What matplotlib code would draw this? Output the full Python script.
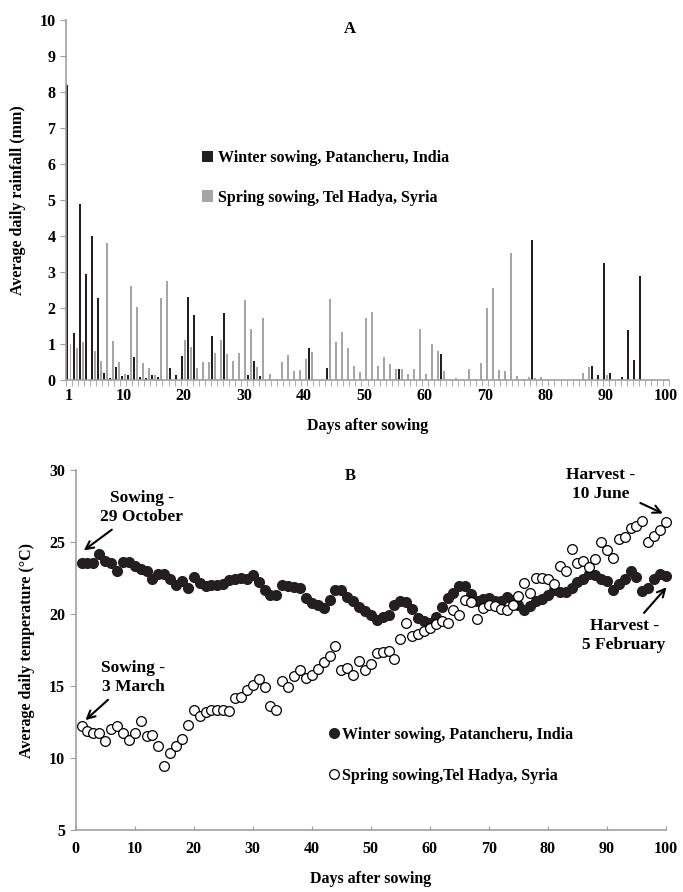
import numpy as np
import matplotlib.pyplot as plt

plt.rcParams['font.family'] = ['Liberation Serif', 'DejaVu Serif']
plt.rcParams['font.weight'] = 'bold'
plt.rcParams['axes.labelweight'] = 'bold'

# Datos
dias = np.arange(1, 101)

lluvia_invierno = [8.2, 1.3, 4.9, 2.95, 4.0, 2.27, 0.2, 0.05, 0.35, 0.1,
                   0.13, 0.64, 0.08, 0.05, 0.13, 0.07, 0, 0.33, 0.13, 0.67,
                   2.31, 1.8, 0, 0, 1.23, 0, 1.87, 0, 0, 0,
                   0.13, 0.53, 0.1, 0, 0, 0, 0, 0, 0, 0,
                   0.89, 0, 0, 0.33, 0, 0, 0, 0, 0, 0,
                   0, 0, 0, 0, 0, 0.3, 0, 0, 0, 0,
                   0, 0, 0.73, 0, 0, 0, 0, 0, 0, 0,
                   0, 0, 0, 0, 0, 0, 0, 3.89, 0, 0,
                   0, 0, 0, 0, 0, 0, 0, 0.39, 0.15, 3.25,
                   0.19, 0, 0.08, 1.38, 0.55, 2.88, 0, 0, 0, 0]

lluvia_primavera = [1.0, 0.9, 1.06, 0, 0.8, 0.54, 3.8, 1.08, 0.51, 0.16,
                    2.6, 2.02, 0.47, 0.33, 0.14, 2.29, 2.75, 0, 0, 1.1,
                    0.93, 0.33, 0.49, 0.49, 0.76, 1.1, 0.71, 0.54, 0.76, 2.22,
                    1.42, 0.35, 1.71, 0.16, 0.03, 0.49, 0.69, 0.24, 0.28, 0.58,
                    0.78, 0, 0, 2.25, 1.05, 1.34, 0.88, 0.39, 0.22, 1.71,
                    1.88, 0.4, 0.63, 0.44, 0.3, 0.3, 0.16, 0.3, 1.43, 0.17,
                    1.01, 0.81, 0.24, 0.02, 0.05, 0, 0.3, 0.03, 0.46, 2.0,
                    2.56, 0.28, 0.24, 3.52, 0.12, 0.02, 0.08, 0.06, 0.08, 0,
                    0, 0, 0, 0, 0, 0.19, 0.37, 0, 0, 0.13,
                    0, 0, 0, 0, 0, 0, 0, 0, 0, 0]

temp_invierno = [23.56, 23.56, 23.56, 24.15, 23.7, 23.56, 23.0, 23.6, 23.6, 23.3,
                 23.1, 23.0, 22.4, 22.75, 22.75, 22.45, 22.0, 22.3, 21.8, 22.6,
                 22.15, 21.95, 22.0, 22.0, 22.1, 22.35, 22.4, 22.5, 22.45, 22.7,
                 22.2, 21.7, 21.35, 21.3, 22.0, 21.95, 21.9, 21.8, 21.1, 20.75,
                 20.6, 20.45, 21.0, 21.65, 21.7, 21.2, 20.9, 20.5, 20.2, 19.95,
                 19.6, 19.8, 19.9, 20.6, 20.9, 20.8, 20.35, 19.75, 19.5, 19.4,
                 19.8, 20.5, 21.1, 21.45, 21.95, 21.95, 21.4, 20.9, 21.05, 21.1,
                 20.9, 20.9, 21.2, 21.0, 20.6, 20.3, 20.55, 20.9, 21.05, 21.3,
                 21.7, 21.5, 21.5, 21.8, 22.2, 22.45, 22.75, 22.7, 22.45, 22.3,
                 21.7, 22.05, 22.4, 23.0, 22.6, 21.6, 21.8, 22.45, 22.8, 22.65]

temp_primavera = [12.2, 11.85, 11.73, 11.76, 11.2, 12.0, 12.2, 11.73, 11.27, 11.73,
                  12.6, 11.55, 11.6, 10.8, 9.46, 10.33, 10.85, 11.3, 12.3, 13.33,
                  12.95, 13.2, 13.3, 13.33, 13.3, 13.25, 14.17, 14.24, 14.7, 15.05,
                  15.5, 14.94, 13.6, 13.3, 15.33, 14.94, 15.68, 16.1, 15.58, 15.75,
                  16.2, 16.68, 17.07, 17.76, 16.14, 16.23, 15.74, 16.73, 16.14, 16.54,
                  17.27, 17.37, 17.4, 16.9, 18.25, 19.35, 18.5, 18.6, 18.8, 19.0,
                  19.3, 19.5, 19.4, 20.25, 19.9, 21.0, 20.8, 19.62, 20.4, 20.62,
                  20.55, 20.35, 20.27, 20.6, 21.25, 22.18, 21.47, 22.5, 22.5, 22.4,
                  22.06, 23.3, 23.0, 24.5, 23.57, 23.65, 23.28, 23.82, 25.0, 24.43,
                  23.87, 25.22, 25.38, 26.0, 26.1, 26.43, 25.03, 25.4, 25.8, 26.38]

etiquetas_x_a = [1, 10, 20, 30, 40, 50, 60, 70, 80, 90, 100]

gris_eje = '#a0a0a0'
negro = '#231f20'
gris_barra = '#a6a6a6'

fig = plt.figure(figsize=(6.83, 8.92), dpi=100)

# ---------------- Panel A: lluvia ----------------
ax1 = fig.add_axes([0.0966, 0.574, 0.883, 0.4036])
b1 = ax1.bar(dias - 0.25, lluvia_invierno, width=0.33, color=negro,
             label='Winter sowing, Patancheru, India')
b2 = ax1.bar(dias + 0.25, lluvia_primavera, width=0.33, color=gris_barra,
             label='Spring sowing, Tel Hadya, Syria')
ax1.set_xlim(0.5, 100.5)
ax1.set_ylim(0, 10)
ax1.set_yticks(range(0, 11))
ax1.set_xticks(etiquetas_x_a)
ax1.set_xticks(np.arange(0.5, 101, 1), minor=True)
ax1.tick_params(axis='x', which='major', length=0, pad=6, labelsize=11.5)
ax1.tick_params(axis='x', which='minor', length=4, color=gris_eje)
ax1.tick_params(axis='y', length=4, color=gris_eje, labelsize=11.5)
for s in ['top', 'right']:
    ax1.spines[s].set_visible(False)
for s in ['left', 'bottom']:
    ax1.spines[s].set_color(gris_eje)
    ax1.spines[s].set_linewidth(1.2)
ax1.set_xlabel('Days after sowing', fontsize=11.5, labelpad=10)
ax1.set_ylabel('Average daily rainfall (mm)', fontsize=11.5, labelpad=10)
ax1.text(47.6, 9.75, 'A', fontsize=12, ha='center', va='center')
ax1.legend(handles=[b1, b2], loc='center left', bbox_to_anchor=(0.225, 0.562),
           frameon=False, fontsize=11.5, handlelength=0.7, handleheight=0.7,
           handletextpad=0.3, labelspacing=1.5, borderpad=0, borderaxespad=0)

# ---------------- Panel B: temperatura ----------------
ax2 = fig.add_axes([0.1108, 0.0695, 0.8643, 0.4036])
ax2.plot(dias, temp_invierno, 'o', color=negro, markersize=7, clip_on=False,
         label='Winter sowing, Patancheru, India')
ax2.plot(dias, temp_primavera, 'o', markerfacecolor='white', markeredgecolor='black',
         markeredgewidth=0.9, markersize=7, clip_on=False,
         label='Spring sowing,Tel Hadya, Syria')
ax2.set_xlim(0, 100)
ax2.set_ylim(5, 30)
ax2.set_xticks(range(0, 101, 10))
ax2.set_yticks(range(5, 31, 5))
ax2.tick_params(axis='x', direction='in', length=3, color=gris_eje, pad=8, labelsize=11.5)
ax2.tick_params(axis='y', length=4, color=gris_eje, labelsize=11.5)
for s in ['top', 'right']:
    ax2.spines[s].set_visible(False)
for s in ['left', 'bottom']:
    ax2.spines[s].set_color(gris_eje)
    ax2.spines[s].set_linewidth(1.2)
ax2.set_xlabel('Days after sowing', fontsize=11.5, labelpad=10)
ax2.set_ylabel('Average daily temperature (\u00b0C)', fontsize=11.5, labelpad=10)
ax2.text(46.5, 29.6, 'B', fontsize=12, ha='center', va='center')
ax2.legend(loc='center left', bbox_to_anchor=(0.43, 0.208), frameon=False,
           fontsize=11.5, handlelength=0.6, handletextpad=0.2, labelspacing=1.55,
           borderpad=0, borderaxespad=0)

flecha = dict(arrowstyle='->', color='black', lw=1.5, mutation_scale=14)
ax2.annotate('Sowing -\n29 October', xy=(1.0, 24.3), xytext=(11.2, 27.4),
             ha='center', va='center', fontsize=12.5, linespacing=1.3,
             arrowprops=flecha, annotation_clip=False)
ax2.annotate('Sowing -\n3 March', xy=(1.3, 12.5), xytext=(9.7, 15.6),
             ha='center', va='center', fontsize=12.5, linespacing=1.3,
             arrowprops=flecha, annotation_clip=False)
ax2.annotate('Harvest -\n10 June', xy=(99.9, 26.9), xytext=(88.9, 29.0),
             ha='center', va='center', fontsize=12.5, linespacing=1.3,
             arrowprops=flecha, annotation_clip=False)
ax2.annotate('Harvest -\n5 February', xy=(100.4, 22.0), xytext=(92.9, 18.5),
             ha='center', va='center', fontsize=12.5, linespacing=1.3,
             arrowprops=flecha, annotation_clip=False)

fig.savefig('out.png', dpi=100)
